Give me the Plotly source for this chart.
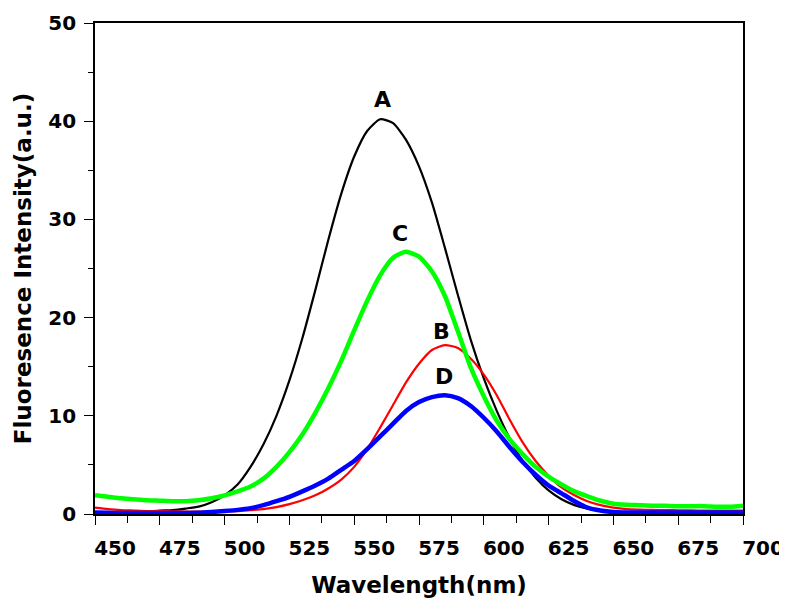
import plotly.graph_objects as go

wavelength = list(range(450, 701, 5))

curve_A = [0.1, 0.1, 0.15, 0.2, 0.25, 0.35, 0.4, 0.55, 0.75, 1.2,
           1.9, 3.0, 4.8, 7.1, 10.0, 13.6, 17.9, 22.8, 27.9, 32.6,
           36.4, 39.0, 40.2, 39.8, 38.1, 35.4, 31.7, 27.1, 22.3, 17.7,
           13.8, 10.5, 7.7, 5.4, 3.7, 2.4, 1.5, 0.9, 0.55, 0.35,
           0.25, 0.2, 0.2, 0.18, 0.17, 0.16, 0.15, 0.15, 0.15, 0.15, 0.15]

curve_B = [0.65, 0.5, 0.4, 0.35, 0.3, 0.3, 0.27, 0.25, 0.25, 0.25,
           0.27, 0.3, 0.4, 0.5, 0.7, 1.0, 1.4, 1.9, 2.6, 3.5,
           4.8, 6.6, 8.8, 11.1, 13.4, 15.3, 16.7, 17.2, 16.9, 15.8,
           14.2, 12.1, 9.6, 7.3, 5.4, 3.9, 2.7, 1.9, 1.3, 0.9,
           0.65, 0.5, 0.45, 0.42, 0.4, 0.38, 0.36, 0.35, 0.35, 0.35, 0.35]

curve_C = [1.9, 1.75, 1.6, 1.5, 1.4, 1.35, 1.3, 1.3, 1.4, 1.6,
           1.9, 2.3, 2.8, 3.6, 4.8, 6.3, 8.1, 10.3, 12.8, 15.6,
           18.7, 21.7, 24.3, 26.1, 26.7, 26.2, 24.7, 22.2, 18.6, 14.9,
           12.0, 9.5, 7.6, 6.1, 4.8, 3.8, 3.0, 2.3, 1.8, 1.35,
           1.05, 0.95, 0.9, 0.85, 0.85, 0.8, 0.8, 0.8, 0.75, 0.75, 0.85]

curve_D = [0.15, 0.12, 0.1, 0.1, 0.1, 0.1, 0.1, 0.1, 0.12, 0.2,
           0.3, 0.42, 0.6, 0.9, 1.3, 1.75, 2.3, 2.9, 3.6, 4.5,
           5.4, 6.6, 7.9, 9.2, 10.5, 11.4, 11.9, 12.1, 11.8, 11.0,
           9.8, 8.4, 6.8, 5.3, 4.0, 2.9, 2.1, 1.3, 0.65, 0.35,
           0.2, 0.15, 0.15, 0.15, 0.15, 0.15, 0.15, 0.15, 0.15, 0.15, 0.15]

labels = ["A", "B", "C", "D"]
label_x = [561, 583.7, 567.7, 584.8]
label_y = [42.2, 18.6, 28.6, 14.0]

FONT = "DejaVu Sans, sans-serif"

fig = go.Figure()
series = [
    (curve_A, "#000000", 2.2),
    (curve_B, "#ff0000", 2.2),
    (curve_C, "#00ff00", 4.5),
    (curve_D, "#0000ff", 4.5),
]
for name, (vals, col, w) in zip(labels, series):
    fig.add_trace(go.Scatter(x=wavelength, y=vals, mode="lines", name=name,
                             line=dict(color=col, width=w, shape="spline", smoothing=0.6)))

for t, x, y in zip(labels, label_x, label_y):
    fig.add_annotation(x=x, y=y, text=t, showarrow=False,
                       font=dict(family=FONT, size=22, color="#000000", weight="bold"))

axis_common = dict(
    showgrid=False, zeroline=False, showline=True, linecolor="#000000", linewidth=1.6,
    mirror=True, ticks="outside", tickcolor="#000000", tickwidth=1.4, ticklen=9,
    automargin=False,
    tickfont=dict(family=FONT, size=20, color="#000000", weight="bold"),
)

fig.update_layout(
    width=787, height=601,
    margin=dict(l=87, r=52, t=15, b=95),
    plot_bgcolor="#ffffff", paper_bgcolor="#ffffff",
    showlegend=False,
    xaxis=dict(range=[450, 700], dtick=25, tick0=450,
               minor=dict(dtick=12.5, ticks="outside", ticklen=7, tickcolor="#000000", tickwidth=1.4),
               ticklabelshift=20, ticklabelstandoff=6,
               title=dict(text="Wavelength(nm)", standoff=18,
                          font=dict(family=FONT, size=23, color="#000000", weight="bold")),
               **axis_common),
    yaxis=dict(range=[0, 50], dtick=10, tick0=0,
               minor=dict(dtick=5, ticks="outside", ticklen=5, tickcolor="#000000", tickwidth=1.4),
               ticklabelstandoff=4,
               title=dict(text="Fluoresence Intensity(a.u.)", standoff=10,
                          font=dict(family=FONT, size=23, color="#000000", weight="bold")),
               **axis_common),
)

fig.write_html("out.html")
